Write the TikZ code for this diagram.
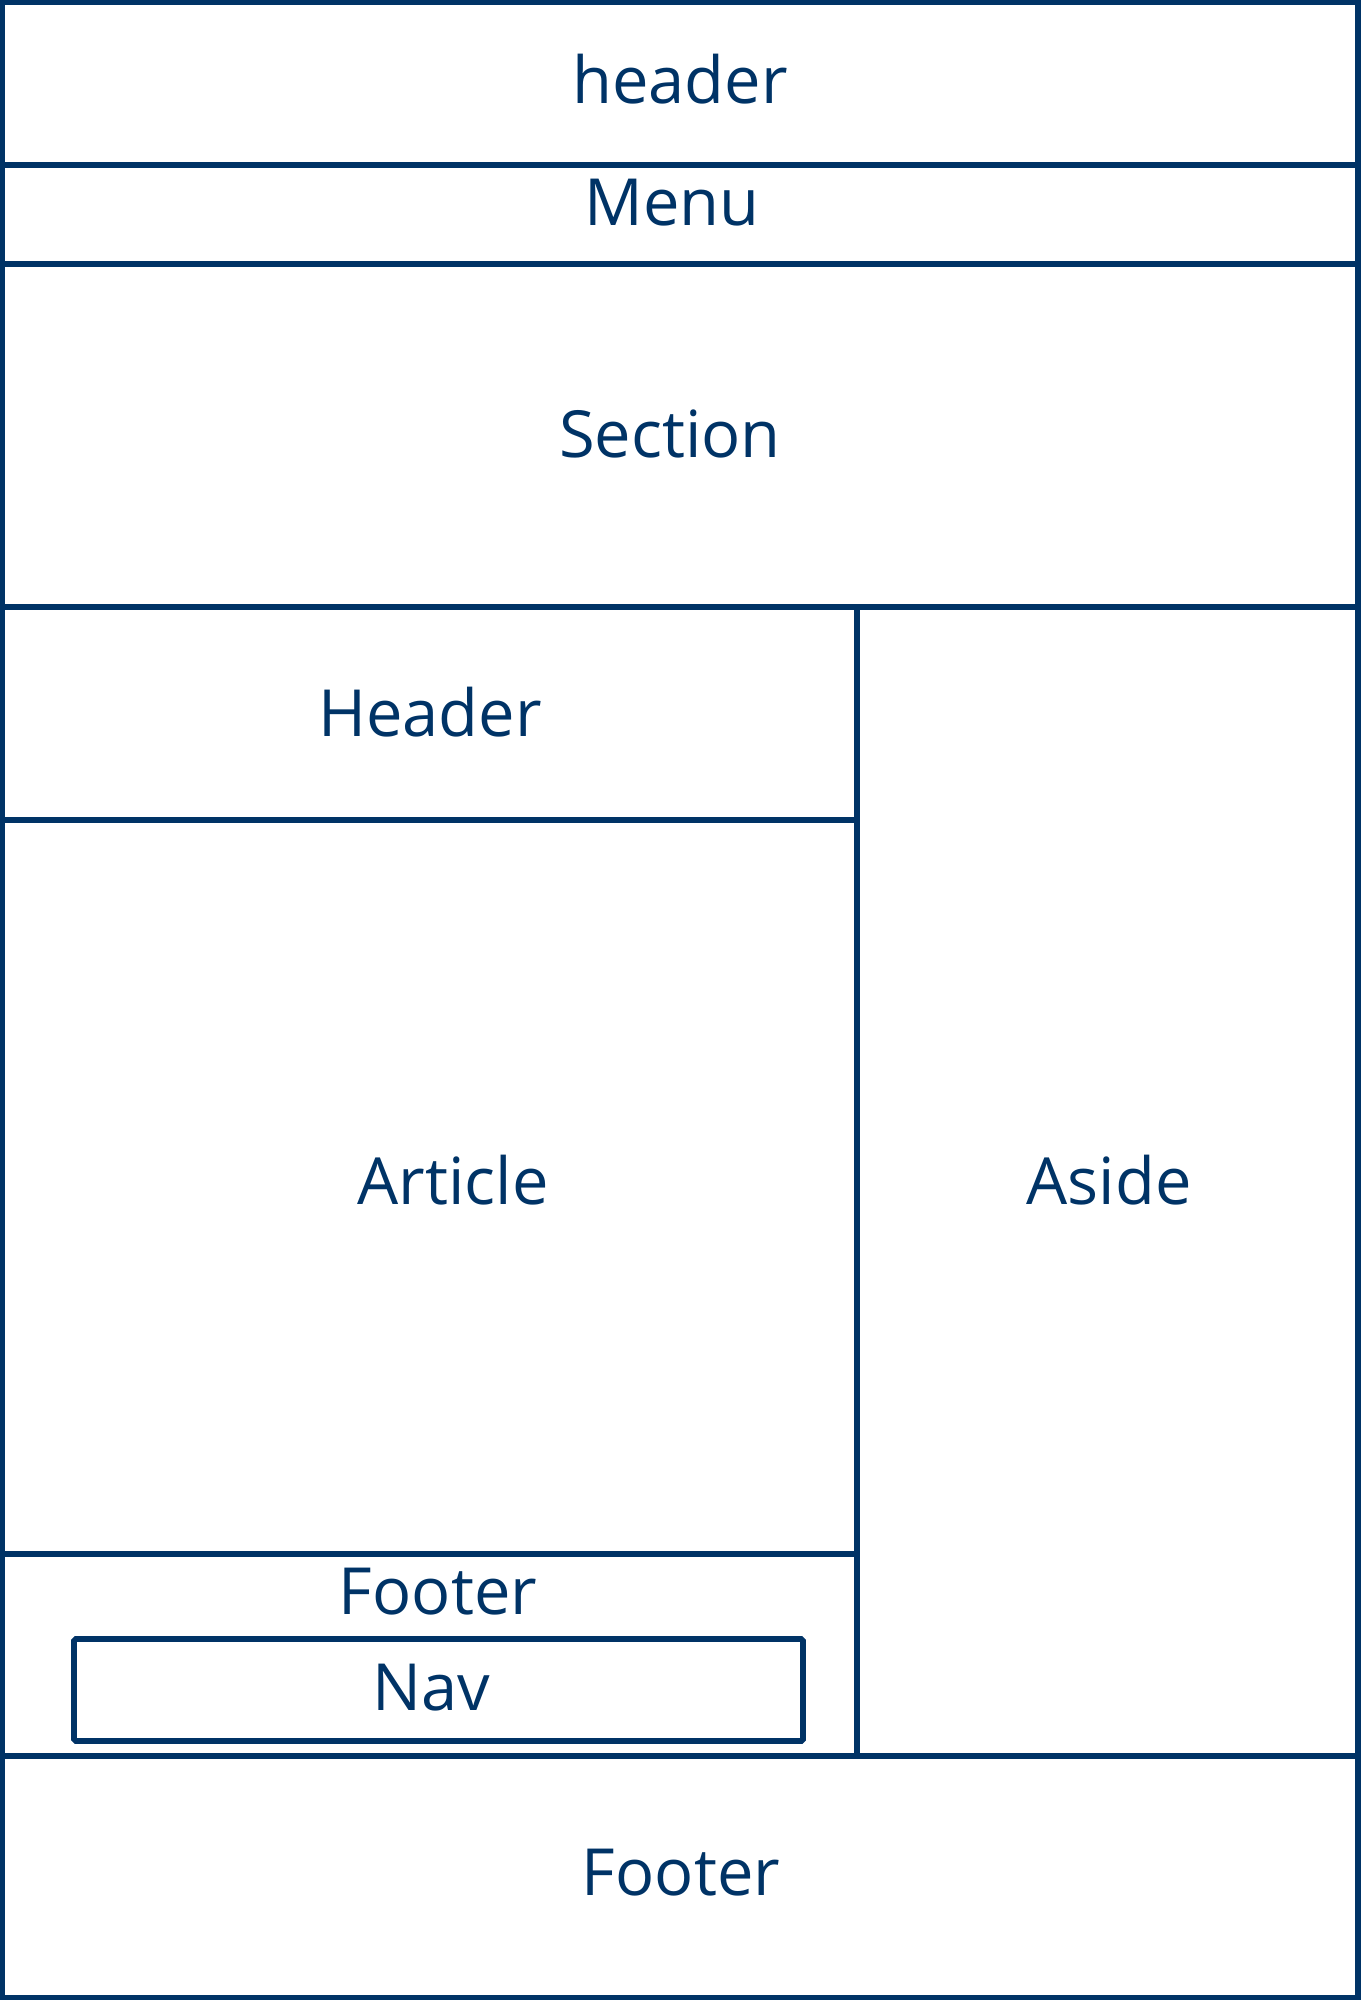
\documentclass[tikz,border=0pt]{standalone}
\usepackage{fontspec}
\setmainfont{Open Sans}
\usetikzlibrary{calc}

\begin{document}
\begin{tikzpicture}[x=0.02cm,y=-0.02cm]

\definecolor{ink}{HTML}{003366}
\tikzset{
 wall/.style={draw=ink,line width=3.2pt},
 tag/.style={text=ink,inner sep=0pt,font=\fontsize{37}{44}\selectfont}
}

\def\W {1360} \def\H {2000} \def\m {2}
\def\ya {165} \def\yb {264} \def\yc {607} \def\yd {820} \def\ye {1554} \def\yf {1756}
\def\xa {857}

\useasboundingbox (0,0) rectangle (\W,\H);

\coordinate (TL) at (\m,\m);
\coordinate (BR) at (\W-\m,\H-\m);
\coordinate (NavA) at (74,1639);
\coordinate (NavB) at (803,1741);

% outer frame and rows
\draw[wall] (TL) rectangle (BR);
\draw[wall] (\m,\ya) -- (\W-\m,\ya);
\draw[wall] (\m,\yb) -- (\W-\m,\yb);
\draw[wall] (\m,\yc) -- (\W-\m,\yc);
\draw[wall] (\m,\yf) -- (\W-\m,\yf);

% article column
\draw[wall] (\xa,\yc) -- (\xa,\yf);
\draw[wall] (\m,\yd) -- (\xa,\yd);
\draw[wall] (\m,\ye) -- (\xa,\ye);
\draw[wall,rounded corners=1pt] (NavA) rectangle (NavB);

% labels
\node[tag] (top)     at (680,79)    {header};
\node[tag] (menu)    at (672,203)   {Menu};
\node[tag] (section) at (670,434)   {Section};
\node[tag] (head)    at (430,712)   {Header};
\node[tag] (article) at (453,1180)  {Article};
\node[tag] (aside)   at (1109,1180) {Aside};
\node[tag] (foot)    at (438,1592)  {Footer};
\node[tag] (nav)     at (431,1688)  {Nav};
\node[tag] (bottom)  at (681,1873)  {Footer};

\end{tikzpicture}
\end{document}
